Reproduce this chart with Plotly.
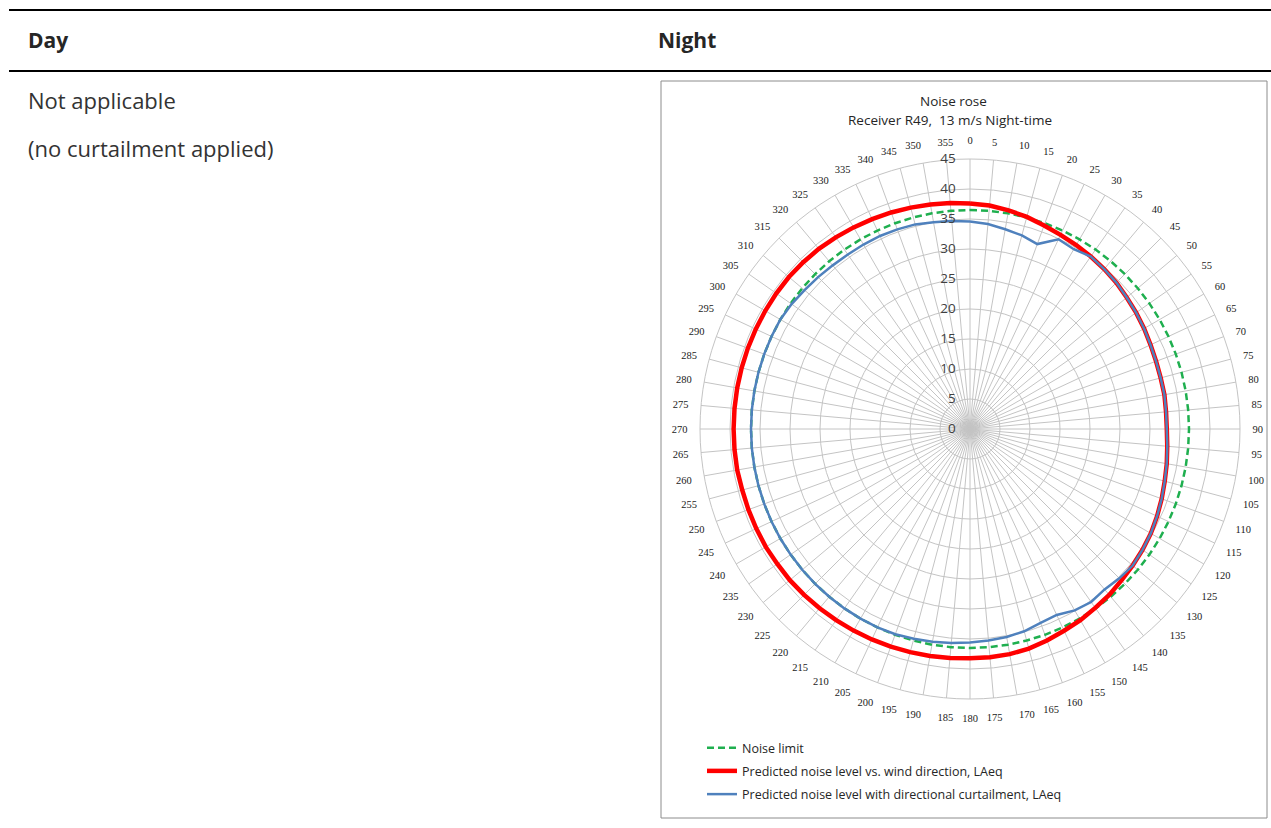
import plotly.graph_objects as go

W, H = 1271, 828

# Wind direction (degrees from north, clockwise)
directions = list(range(0, 360, 5))

# Predicted noise level vs. wind direction, LAeq (dB)
predicted = [
    37.6, 37.4, 37.0, 36.6, 36.1, 35.7, 35.4, 35.1, 34.8, 34.5,
    34.1, 33.8, 33.5, 33.2, 33.0, 32.9, 32.9, 32.8, 32.8, 33.0,
    33.3, 33.6, 34.0, 34.4, 34.8, 35.1, 35.4, 35.7, 36.1, 36.4,
    36.8, 37.1, 37.5, 37.9, 38.1, 38.2, 38.2, 38.3, 38.4, 38.5,
    38.6, 38.7, 38.8, 38.9, 39.0, 39.1, 39.2, 39.2, 39.3, 39.3,
    39.3, 39.3, 39.4, 39.4, 39.4, 39.4, 39.4, 39.4, 39.4, 39.4,
    39.4, 39.4, 39.4, 39.3, 39.2, 39.0, 38.8, 38.6, 38.4, 38.2,
    38.0, 37.8,
]

# Predicted noise level with directional curtailment, LAeq (dB)
curtailed = [
    34.6, 34.3, 33.8, 33.4, 32.8, 34.9, 34.6, 35.1, 34.8, 34.5,
    34.1, 33.8, 33.5, 33.2, 33.0, 32.9, 32.9, 32.8, 32.8, 33.0,
    33.3, 33.6, 34.0, 34.4, 34.8, 35.1, 35.4, 35.2, 34.9, 35.2,
    34.9, 34.2, 34.4, 34.9, 35.2, 35.4, 35.6, 35.8, 36.0, 36.2,
    36.4, 36.5, 36.5, 36.5, 36.5, 36.5, 36.5, 36.5, 36.5, 36.5,
    36.5, 36.5, 36.5, 36.5, 36.5, 36.5, 36.5, 36.5, 36.5, 36.5,
    36.5, 36.3, 36.0, 35.8, 35.6, 35.5, 35.5, 35.5, 35.4, 35.3,
    35.0, 34.8,
]

# Night-time noise limit (dB), same in every direction
limit_level = 36.5
noise_limit = [limit_level] * len(directions)

radial_ticks = [0, 5, 10, 15, 20, 25, 30, 35, 40, 45]
angle_labels = [str(d) for d in directions]


def closed(values):
    return values + values[:1]


theta = closed(directions)


def px(x):
    return x / W


def py(y):
    return 1 - y / H


fig = go.Figure()

fig.add_trace(go.Scatterpolar(
    r=closed(noise_limit), theta=theta, mode="lines",
    name="Noise limit", legendgroup="a",
    line=dict(color="#1FAF4F", width=2.5, dash="7px,4px"),
))
fig.add_trace(go.Scatterpolar(
    r=closed(predicted), theta=theta, mode="lines",
    name="Predicted noise level vs. wind direction, LAeq", legendgroup="b",
    line=dict(color="#FF0000", width=4.5),
))
fig.add_trace(go.Scatterpolar(
    r=closed(curtailed), theta=theta, mode="lines",
    name="Predicted noise level with directional curtailment, LAeq", legendgroup="c",
    line=dict(color="#4F81BD", width=2.5),
))

# polar area: centre (970, 429), radius 270 px
cx, cy, rad = 970, 429, 270
fig.update_layout(
    width=W, height=H,
    margin=dict(l=0, r=0, t=0, b=0),
    paper_bgcolor="white",
    plot_bgcolor="white",
    font=dict(family="Open Sans", color="#262626"),
    polar=dict(
        domain=dict(x=[px(cx - rad), px(cx + rad)], y=[py(cy + rad), py(cy - rad)]),
        bgcolor="white",
        angularaxis=dict(
            rotation=90, direction="clockwise",
            tickmode="array", tickvals=directions, ticktext=angle_labels,
            showgrid=True, gridcolor="#c4c4c4", gridwidth=1,
            showline=True, linecolor="#c4c4c4", linewidth=1,
            ticks="outside", ticklen=10, tickcolor="rgba(0,0,0,0)",
            tickfont=dict(family="Liberation Serif", size=10.5, color="#1a1a1a"),
        ),
        radialaxis=dict(
            range=[0, 45], tickmode="array", tickvals=radial_ticks,
            angle=90, tickangle=90, side="counterclockwise",
            showline=False, showgrid=True, gridcolor="#c4c4c4", gridwidth=1,
            ticks="outside", ticklen=9, tickcolor="rgba(0,0,0,0)",
            tickfont=dict(family="Open Sans", size=13.5, color="#404040"),
        ),
    ),
    showlegend=True,
    legend=dict(
        x=px(702), y=py(733), xanchor="left", yanchor="top",
        font=dict(family="Open Sans", size=12.5, color="#262626"),
        bgcolor="rgba(0,0,0,0)", tracegroupgap=4, itemwidth=30,
    ),
)

# table rules and chart frame
fig.add_shape(type="line", xref="paper", yref="paper",
              x0=px(9), x1=1, y0=py(10), y1=py(10), line=dict(color="black", width=2))
fig.add_shape(type="line", xref="paper", yref="paper",
              x0=px(9), x1=1, y0=py(71), y1=py(71), line=dict(color="black", width=2))
fig.add_shape(type="rect", xref="paper", yref="paper",
              x0=px(661), x1=px(1267), y0=py(818), y1=py(81),
              line=dict(color="#8c8c8c", width=1))

texts = [
    ("<b>Day</b>", 26, 40, 21, "left", "#262626"),
    ("<b>Night</b>", 656, 40, 21, "left", "#262626"),
    ("Not applicable", 26, 100, 22, "left", "#333333"),
    ("(no curtailment applied)", 26, 148, 22, "left", "#333333"),
    ("Noise rose", 953, 101, 13.5, "center", "#262626"),
    ("Receiver R49,  13 m/s Night-time", 950, 120, 13.5, "center", "#262626"),
]
for txt, x, y, size, anchor, color in texts:
    fig.add_annotation(
        text=txt, xref="paper", yref="paper", x=px(x), y=py(y),
        xanchor=anchor, yanchor="middle", showarrow=False,
        font=dict(family="Open Sans", size=size, color=color),
    )

fig.write_html("out.html")
